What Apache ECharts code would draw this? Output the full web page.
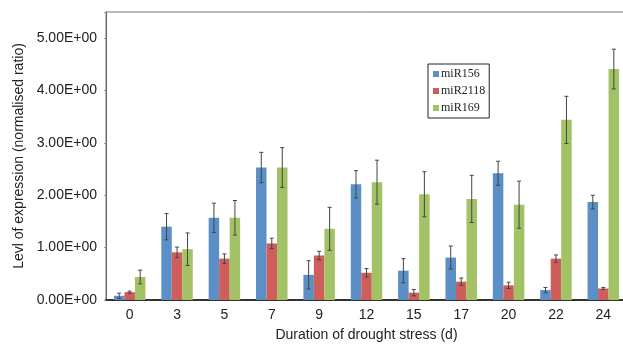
<!DOCTYPE html>
<html>
<head>
<meta charset="utf-8">
<script src="https://cdn.jsdelivr.net/npm/echarts@6/dist/echarts.min.js"></script>
<style>
  html, body { margin: 0; padding: 0; background: #fff; overflow: hidden; }
  #chart { width: 630px; height: 347px; }
</style>
</head>
<body>
<div id="chart"></div>
<script>
// days of drought stress
var days = ["0", "3", "5", "7", "9", "12", "15", "17", "20", "22", "24"];
var seriesNames = ["miR156", "miR2118", "miR169"];
// mean expression
var miR156 = [0.08, 1.40, 1.57, 2.53, 0.48, 2.21, 0.56, 0.81, 2.42, 0.19, 1.87];
var miR2118 = [0.15, 0.91, 0.79, 1.08, 0.85, 0.52, 0.14, 0.35, 0.28, 0.79, 0.22];
var miR169 = [0.44, 0.97, 1.57, 2.53, 1.36, 2.25, 2.02, 1.93, 1.82, 3.44, 4.41];
// error (+/-)
var err156 = [0.05, 0.25, 0.28, 0.29, 0.27, 0.26, 0.23, 0.22, 0.23, 0.05, 0.13];
var err2118 = [0.02, 0.10, 0.09, 0.10, 0.08, 0.08, 0.06, 0.07, 0.06, 0.07, 0.02];
var err169 = [0.13, 0.31, 0.33, 0.38, 0.41, 0.42, 0.43, 0.45, 0.45, 0.45, 0.38];

var colors = ["#5b8fc6", "#cd5e5a", "#a3c266"];
var barW = 10.5;

var values = [miR156, miR2118, miR169];
var errs = [err156, err2118, err169];

var chart = echarts.init(document.getElementById("chart"));

var errData = [];
for (var s = 0; s < 3; s++) {
  for (var i = 0; i < days.length; i++) {
    errData.push([i, values[s][i], errs[s][i], s]);
  }
}

function renderErr(params, api) {
  var idx = api.value(0), v = api.value(1), e = api.value(2), s = api.value(3);
  var c = api.coord([idx, v]);
  var x = c[0] + (s - 1) * barW;
  var top = api.coord([idx, v + e])[1];
  var bot = api.coord([idx, Math.max(v - e, 0)])[1];
  var st = { stroke: "#444", lineWidth: 1 };
  return {
    type: "group",
    children: [
      { type: "line", shape: { x1: x, y1: top, x2: x, y2: bot }, style: st },
      { type: "line", shape: { x1: x - 2, y1: top, x2: x + 2, y2: top }, style: st },
      { type: "line", shape: { x1: x - 2, y1: bot, x2: x + 2, y2: bot }, style: st }
    ]
  };
}

var series = [];
for (var k = 0; k < 3; k++) {
  series.push({
    name: seriesNames[k],
    type: "bar",
    barWidth: barW,
    barGap: "0%",
    itemStyle: { color: colors[k] },
    data: values[k]
  });
}
series.push({
  type: "custom",
  name: "err",
  renderItem: renderErr,
  encode: { x: 0, y: 1 },
  data: errData,
  z: 5,
  silent: true
});

var option = {
  animation: false,
  textStyle: { fontFamily: "Liberation Sans" },
  grid: {
    left: 106, right: 3, top: 12, bottom: 45,
    show: true, borderColor: "#777", borderWidth: 1
  },
  legend: {
    data: seriesNames,
    orient: "vertical",
    left: 428, top: 64,
    padding: [4, 4, 4, 5],
    itemWidth: 6, itemHeight: 6, itemGap: 5,
    icon: "rect",
    borderColor: "#222", borderWidth: 1,
    textStyle: { fontFamily: "Liberation Serif", fontSize: 12, color: "#222", padding: [0, 0, 0, -3] }
  },
  xAxis: {
    type: "category",
    data: days,
    name: "Duration of drought stress (d)",
    nameLocation: "middle",
    nameGap: 28,
    nameTextStyle: { fontSize: 14, color: "#222" },
    axisLine: { lineStyle: { color: "#333", width: 2 } },
    axisTick: { show: false },
    axisLabel: { fontSize: 14, color: "#222", margin: 8 }
  },
  yAxis: {
    type: "value",
    min: 0, max: 5.5, interval: 1,
    name: "Levl of expression (normalised ratio)",
    nameLocation: "middle",
    nameGap: 80,
    nameTextStyle: { fontSize: 14, color: "#222" },
    axisLine: { show: true, lineStyle: { color: "#666" } },
    axisTick: { show: true, length: 2, lineStyle: { color: "#999" } },
    splitLine: { show: false },
    axisLabel: {
      fontSize: 14, color: "#222", margin: 9,
      formatter: function (v) { return v % 1 ? "" : v.toFixed(2) + "E+00"; }
    }
  },
  series: series
};

chart.setOption(option);
</script>
</body>
</html>
